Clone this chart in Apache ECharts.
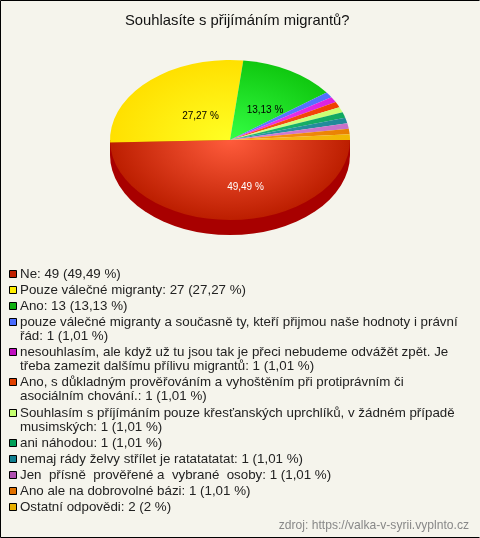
<!DOCTYPE html>
<html><head><meta charset="utf-8">
<style>html,body{margin:0;padding:0;background:#f5f4ec}#c{width:480px;height:538px}</style>
<script src="https://cdn.jsdelivr.net/npm/echarts@6/dist/echarts.min.js"></script>
</head><body><div id="c"></div>
<script>
const titleText = 'Souhlasíte s přijímáním migrantů?';
const footerText = 'zdroj: https://valka-v-syrii.vyplnto.cz';
const categories = [
  'Ne',
  'Pouze válečné migranty',
  'Ano',
  'pouze válečné migranty a současně ty, kteří přijmou naše hodnoty i právní\nřád',
  'nesouhlasím, ale když už tu jsou tak je přeci nebudeme odvážět zpět. Je\ntřeba zamezit dalšímu přílivu migrantů',
  'Ano, s důkladným prověřováním a vyhoštěním při protiprávním či\nasociálním chování.',
  'Souhlasím s příjímáním pouze křesťanských uprchlíků, v žádném případě\nmusimských',
  'ani náhodou',
  'nemaj rády želvy střílet je ratatatatat',
  'Jen  přísně  prověřené a  vybrané  osoby',
  'Ano ale na dobrovolné bázi',
  'Ostatní odpovědi'
];
const values = [49, 27, 13, 1, 1, 1, 1, 1, 1, 1, 1, 2];
const percents = ['49,49', '27,27', '13,13', '1,01', '1,01', '1,01', '1,01', '1,01', '1,01', '1,01', '1,01', '2'];
// slice sizes: the last slice is drawn no wider than its neighbours
const sliceValues = [49, 27, 13, 1.11, 1.11, 1.11, 1.11, 1.11, 1.11, 1.11, 1.11, 1.12];
const swatchColors = ['#c02000','#ffee00','#10b010','#4a6cff','#c010c0','#e04000','#c4ff70','#00a058','#107f90','#b050b0','#e07000','#e8b000'];
const edgeColors   = ['#bc1e00','#ffe000','#10c810','#5070ff','#dc20e0','#f04000','#c8ff70','#10a860','#208898','#c870c8','#e88000','#f0b800'];
const centreColors = ['#ff5c3c','#ffff24','#34ff44','#5c7cff','#f040f0','#ff5020','#d8ff90','#20b870','#3098a8','#d880d8','#ff9820','#ffb030'];
const sideColor = '#a80000';
const labelled = [0, 1, 2];
const labelColors = ['#ffffff', '#000000', '#000000'];

const font = '"Liberation Sans", Arial, sans-serif';
const CX = 230, CY = 140, RX = 120, RY = 80, DEPTH = 15;
const labelPos = {0:[245.5,187], 1:[200.5,116], 2:[265,110]};
const total = sliceValues.reduce((a,b)=>a+b,0);
const cum = []; sliceValues.reduce((a,v,i)=>(cum[i]=a,a+v),0);

function renderItem(params, api){
  const i = params.dataIndex;
  const a0 = cum[i]/total*2*Math.PI, a1 = (cum[i]+api.value(0))/total*2*Math.PI;
  const children = [];
  const scale = RY/RX;
  if(i===0){
    children.push({type:'group',x:CX,y:CY+DEPTH,scaleY:scale,children:[{type:'sector',
      shape:{cx:0,cy:0,r:RX,r0:0,startAngle:0,endAngle:Math.PI,clockwise:true},style:{fill:sideColor}}]});
    children.push({type:'rect',shape:{x:CX-RX,y:CY,width:RX*2,height:DEPTH},style:{fill:sideColor}});
  }
  children.push({type:'group',x:CX,y:CY,scaleY:scale,children:[{type:'sector',
    shape:{cx:0,cy:0,r:RX,r0:0,startAngle:a0,endAngle:a1,clockwise:true},
    style:{fill:new echarts.graphic.RadialGradient(0,0,RX,[{offset:0,color:centreColors[i]},{offset:1,color:edgeColors[i]}],true)}}]});
  return {type:'group',children};
}
function renderLabel(params, api){
  const i = labelled[params.dataIndex];
  return {type:'text',x:labelPos[i][0],y:labelPos[i][1],style:{text:percents[i]+' %',
    font:'10px '+font,fill:labelColors[i],textAlign:'center',textVerticalAlign:'middle'}};
}

const graphic = [];
let y = 275;
const ENTRY = 15.9, LINE = 14.5;
categories.forEach((name,i)=>{
  const text = name+': '+values[i]+' ('+percents[i]+' %)';
  graphic.push({type:'rect',shape:{x:9.5,y:Math.round(y)-4.5,width:7,height:7},
    style:{fill:swatchColors[i],stroke:'#000',lineWidth:1}});
  graphic.push({type:'text',x:20,y:Math.round(y)-8,style:{text,font:'13.33px '+font,fill:'#222',lineHeight:LINE,textVerticalAlign:'top'}});
  const lines = name.split('\n').length-1;
  y += ENTRY + lines*LINE;
});
graphic.push({type:'text',x:469,y:526,style:{text:footerText,font:'12.1px '+font,fill:'#888',textAlign:'right',textVerticalAlign:'middle'}});
graphic.push({type:'polyline',shape:{points:[[479.5,0.5],[0.5,0.5],[0.5,537.5],[479.5,537.5]]},style:{stroke:'#000',fill:null,lineWidth:1}});

const chart = echarts.init(document.getElementById('c'),null,{renderer:'canvas'});
chart.setOption({
  animation:false,
  backgroundColor:'#f5f4ec',
  title:{text:titleText,left:120,top:8,textStyle:{fontFamily:font,fontSize:14.8,fontWeight:'normal',color:'#111'}},
  graphic,
  series:[
    {type:'custom',coordinateSystem:'none',renderItem,data:categories.map((n,i)=>({name:n,value:sliceValues[i]})),silent:true,z:1},
    {type:'custom',coordinateSystem:'none',renderItem:renderLabel,data:labelled.map(i=>values[i]),silent:true,z:2}
  ]
});
</script></body></html>
